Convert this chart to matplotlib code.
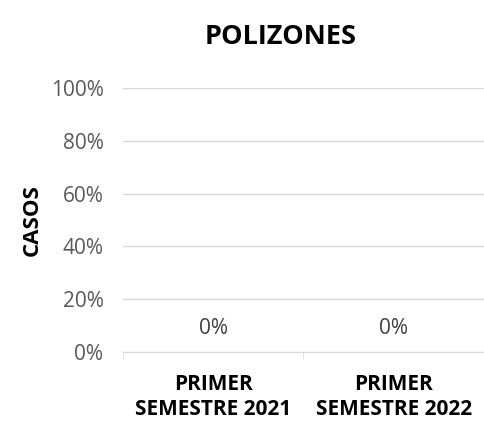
import matplotlib.pyplot as plt
import numpy as np

categories = ["PRIMER\nSEMESTRE 2021", "PRIMER\nSEMESTRE 2022"]
values = [0, 0]
y_ticks = [0, 20, 40, 60, 80, 100]

plt.rcParams["font.family"] = ["Open Sans", "DejaVu Sans"]

fig = plt.figure(figsize=(4.84, 4.21), dpi=100)
ax = fig.add_axes([0.254, 0.164, 0.746, 0.627])

x = np.arange(len(categories))
ax.bar(x, values, width=0.55, color="#4472C4")
for xi, v in zip(x, values):
    ax.text(xi, v + 9, "{}%".format(v), ha="center", va="center",
            fontsize=15, color="#404040")

ax.set_xlim(-0.5, len(categories) - 0.5)
ax.set_ylim(0, 100)
ax.set_yticks(y_ticks)
ax.set_yticklabels(["{}%".format(t) for t in y_ticks], fontsize=15, color="#595959")
ax.yaxis.grid(True, color="#D9D9D9", linewidth=1)
ax.set_axisbelow(True)
ax.tick_params(axis="y", length=0, pad=14)

ax.set_xticks(x)
ax.set_xticklabels(categories, fontsize=15, fontweight="bold", color="black",
                   linespacing=1.26)
ax.set_xticks([-0.5, 0.5, 1.5], minor=True)
ax.tick_params(axis="x", which="major", length=0, pad=16)
ax.tick_params(axis="x", which="minor", length=5, color="#D9D9D9")

for side in ["top", "right", "left"]:
    ax.spines[side].set_visible(False)
ax.spines["bottom"].set_color("#D9D9D9")

ax.set_ylabel("CASOS", fontsize=16, fontweight="bold", labelpad=6)
fig.text(0.58, 0.913, "POLIZONES", ha="center", va="center",
         fontsize=19.5, fontweight="bold")

fig.savefig("out.png", dpi=100)
